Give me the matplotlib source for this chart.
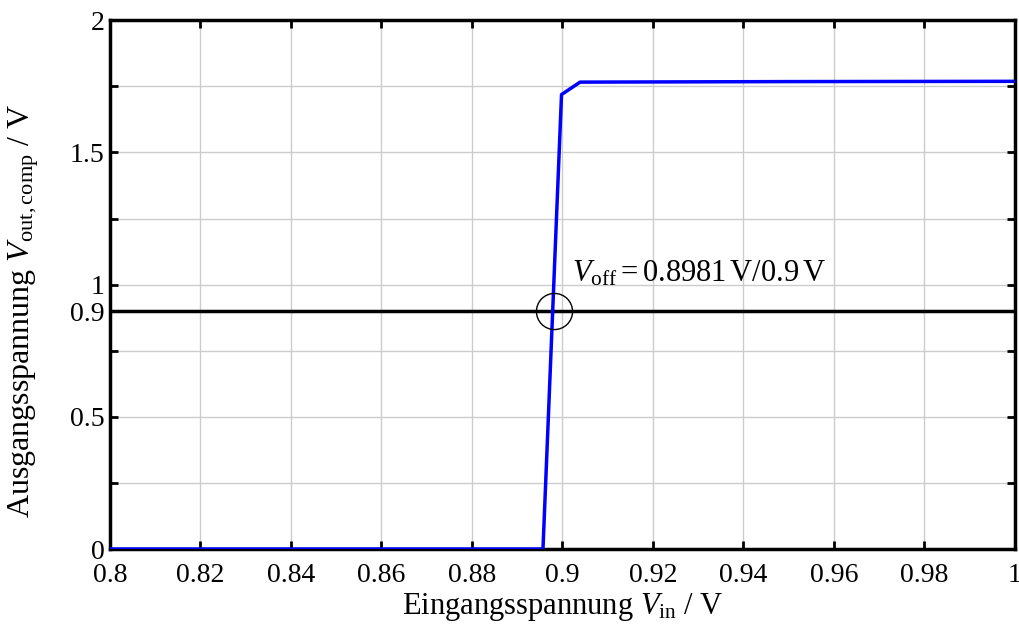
import matplotlib
matplotlib.use("Agg")
import matplotlib.pyplot as plt
import numpy as np

# Data
vin = [0.80, 0.85, 0.8957, 0.8998, 0.9039, 0.95, 1.00]
vout = [0.0, 0.0, 0.0, 1.719, 1.766, 1.768, 1.769]
v_off = 0.8981
v_ref = 0.9
x_ticks = [0.8, 0.82, 0.84, 0.86, 0.88, 0.9, 0.92, 0.94, 0.96, 0.98, 1.0]
x_ticklabels = ["0.8", "0.82", "0.84", "0.86", "0.88", "0.9", "0.92", "0.94", "0.96", "0.98", "1"]
y_ticks = [0, 0.25, 0.5, 0.75, 0.9, 1.0, 1.25, 1.5, 1.75, 2.0]
y_ticklabels = ["0", "", "0.5", "", "0.9", "1", "", "1.5", "", "2"]
y_grid = [0.25, 0.5, 0.75, 1.0, 1.25, 1.5, 1.75]

plt.rcParams['font.family'] = ['Liberation Serif', 'DejaVu Serif']
plt.rcParams['mathtext.fontset'] = 'custom'
plt.rcParams['mathtext.rm'] = 'Liberation Serif'
plt.rcParams['mathtext.it'] = 'Liberation Serif:italic'

fig = plt.figure(figsize=(10.2, 6.33), dpi=100)
ax = fig.add_axes([0.1078, 0.1327, 0.8872, 0.8353])

for x in x_ticks[1:-1]:
    ax.axvline(x, color='#cccccc', lw=1.0, zorder=0)
for y in y_grid:
    ax.axhline(y, color='#cccccc', lw=1.0, zorder=0)

ax.axhline(v_ref, color='black', lw=2.5, zorder=2)
ax.plot(vin, vout, color='#0000ff', lw=2.5, zorder=3)
ax.plot([v_off], [v_ref], marker='o', ms=26, mfc='none', mec='black', mew=1.0, zorder=4)
ax.text(0.9021, 1.043, r"$V_\mathrm{off} = 0.8981\,\mathrm{V}/0.9\,\mathrm{V}$",
        fontsize=22, va='center', ha='left', zorder=5)

ax.set_xlim(0.8, 1.0)
ax.set_ylim(0, 2)
ax.set_xticks(x_ticks)
ax.set_xticklabels(x_ticklabels)
ax.set_yticks(y_ticks)
ax.set_yticklabels(y_ticklabels)
ax.tick_params(direction='in', length=6, width=2, labelsize=20, top=True, right=True)
ax.tick_params(axis='x', pad=10)
ax.tick_params(axis='y', pad=4)
for s in ax.spines.values():
    s.set_linewidth(2.5)

ax.set_xlabel(r"Eingangsspannung $V_\mathrm{in}$ / V", fontsize=22, labelpad=2)
ax.set_ylabel(r"Ausgangsspannung $V_\mathrm{out,comp}$ / V", fontsize=23)
ax.yaxis.set_label_coords(-0.076, 0.45)

fig.savefig("out.png", dpi=100)
